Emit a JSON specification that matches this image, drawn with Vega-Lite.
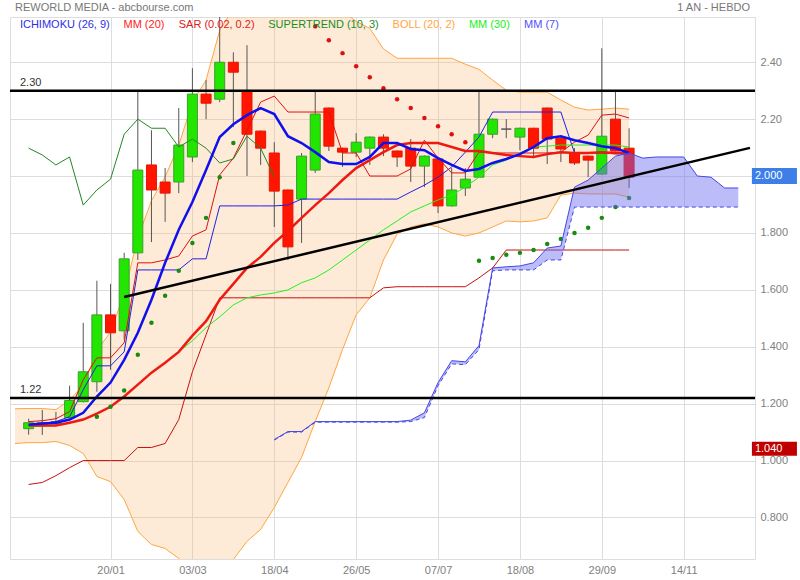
{
"$schema": "https://vega.github.io/schema/vega-lite/v6.json",
"width": 745,
"height": 542,
"autosize": {"type": "none"},
"padding": {"left": 10, "top": 17, "right": 45, "bottom": 21},
"background": "white",
"config": {
  "view": {"stroke": "#dddddd", "strokeWidth": 1},
  "axis": {"gridColor": "#dddddd", "gridWidth": 1, "labelFont": "Liberation Sans", "labelFontSize": 11, "labelColor": "#808080", "ticks": false, "domain": false},
  "text": {"font": "Liberation Sans"}
},
"datasets": {
  "candles": [
    {"k":0,"o":1.112,"h":1.147,"l":1.091,"c":1.133},
    {"k":1,"o":1.126,"h":1.178,"l":1.090,"c":1.133},
    {"k":2,"o":1.130,"h":1.171,"l":1.126,"c":1.137},
    {"k":3,"o":1.151,"h":1.263,"l":1.151,"c":1.211},
    {"k":4,"o":1.207,"h":1.484,"l":1.204,"c":1.312},
    {"k":5,"o":1.277,"h":1.632,"l":1.242,"c":1.512},
    {"k":6,"o":1.512,"h":1.621,"l":1.319,"c":1.449},
    {"k":7,"o":1.456,"h":1.730,"l":1.425,"c":1.709},
    {"k":8,"o":1.730,"h":2.302,"l":1.705,"c":2.021},
    {"k":9,"o":2.039,"h":2.161,"l":1.768,"c":1.951},
    {"k":10,"o":1.979,"h":2.028,"l":1.839,"c":1.940},
    {"k":11,"o":1.979,"h":2.239,"l":1.940,"c":2.109},
    {"k":12,"o":2.067,"h":2.379,"l":2.049,"c":2.288},
    {"k":13,"o":2.288,"h":2.337,"l":2.200,"c":2.256},
    {"k":14,"o":2.270,"h":2.600,"l":2.260,"c":2.400},
    {"k":15,"o":2.400,"h":2.435,"l":2.172,"c":2.365},
    {"k":16,"o":2.298,"h":2.460,"l":2.000,"c":2.147},
    {"k":17,"o":2.158,"h":2.160,"l":2.039,"c":2.098},
    {"k":18,"o":2.081,"h":2.119,"l":1.821,"c":1.947},
    {"k":19,"o":1.951,"h":1.953,"l":1.705,"c":1.751},
    {"k":20,"o":1.919,"h":2.081,"l":1.765,"c":2.070},
    {"k":21,"o":2.021,"h":2.302,"l":2.011,"c":2.218},
    {"k":22,"o":2.239,"h":2.241,"l":2.088,"c":2.105},
    {"k":23,"o":2.098,"h":2.100,"l":2.032,"c":2.084},
    {"k":24,"o":2.084,"h":2.151,"l":2.067,"c":2.119},
    {"k":25,"o":2.098,"h":2.139,"l":2.039,"c":2.137},
    {"k":26,"o":2.137,"h":2.147,"l":2.070,"c":2.098},
    {"k":27,"o":2.088,"h":2.090,"l":2.032,"c":2.067},
    {"k":28,"o":2.098,"h":2.130,"l":1.979,"c":2.035},
    {"k":29,"o":2.035,"h":2.072,"l":1.961,"c":2.070},
    {"k":30,"o":2.060,"h":2.062,"l":1.870,"c":1.895},
    {"k":31,"o":1.895,"h":2.028,"l":1.893,"c":1.951},
    {"k":32,"o":1.958,"h":2.028,"l":1.930,"c":1.989},
    {"k":33,"o":1.996,"h":2.302,"l":1.994,"c":2.147},
    {"k":34,"o":2.147,"h":2.202,"l":2.133,"c":2.200},
    {"k":35,"o":2.165,"h":2.200,"l":2.133,"c":2.165},
    {"k":36,"o":2.137,"h":2.170,"l":2.091,"c":2.168},
    {"k":37,"o":2.168,"h":2.170,"l":2.063,"c":2.098},
    {"k":38,"o":2.239,"h":2.241,"l":2.042,"c":2.130},
    {"k":39,"o":2.133,"h":2.135,"l":2.049,"c":2.095},
    {"k":40,"o":2.081,"h":2.098,"l":2.039,"c":2.046},
    {"k":41,"o":2.070,"h":2.072,"l":1.996,"c":2.056},
    {"k":42,"o":2.007,"h":2.449,"l":2.005,"c":2.140},
    {"k":43,"o":2.200,"h":2.302,"l":2.086,"c":2.088},
    {"k":44,"o":2.098,"h":2.168,"l":1.958,"c":1.996}
  ],
  "ma": [
    {"k":0,"m7":1.126,"m20":1.123,"m30":1.119,"tk":1.137,"kj":1.126,"sr":0.916},
    {"k":1,"m7":1.130,"m20":1.123,"m30":1.120,"tk":1.140,"kj":1.130,"sr":0.923},
    {"k":2,"m7":1.133,"m20":1.123,"m30":1.123,"tk":1.147,"kj":1.137,"sr":0.947},
    {"k":3,"m7":1.144,"m20":1.133,"m30":1.133,"tk":1.172,"kj":1.154,"sr":0.975},
    {"k":4,"m7":1.168,"m20":1.144,"m30":1.144,"tk":1.284,"kj":1.249,"sr":1.000},
    {"k":5,"m7":1.225,"m20":1.165,"m30":1.165,"tk":1.361,"kj":1.333,"sr":1.000},
    {"k":6,"m7":1.274,"m20":1.189,"m30":1.189,"tk":1.361,"kj":1.333,"sr":1.000},
    {"k":7,"m7":1.354,"m20":1.225,"m30":1.225,"tk":1.414,"kj":1.382,"sr":1.000},
    {"k":8,"m7":1.449,"m20":1.267,"m30":1.267,"tk":1.695,"kj":1.670,"sr":1.046},
    {"k":9,"m7":1.565,"m20":1.309,"m30":1.309,"tk":1.695,"kj":1.670,"sr":1.046},
    {"k":10,"m7":1.695,"m20":1.344,"m30":1.344,"tk":1.705,"kj":1.670,"sr":1.060},
    {"k":11,"m7":1.811,"m20":1.382,"m30":1.382,"tk":1.719,"kj":1.670,"sr":1.144},
    {"k":12,"m7":1.909,"m20":1.439,"m30":1.421,"tk":1.789,"kj":1.709,"sr":1.312},
    {"k":13,"m7":2.021,"m20":1.490,"m30":1.467,"tk":1.811,"kj":1.709,"sr":1.442},
    {"k":14,"m7":2.137,"m20":1.565,"m30":1.505,"tk":2.004,"kj":1.895,"sr":1.572},
    {"k":15,"m7":2.182,"m20":1.621,"m30":1.547,"tk":2.063,"kj":1.895,"sr":1.572},
    {"k":16,"m7":2.214,"m20":1.677,"m30":1.572,"tk":2.161,"kj":1.895,"sr":1.572},
    {"k":17,"m7":2.239,"m20":1.716,"m30":1.582,"tk":2.260,"kj":1.895,"sr":1.572},
    {"k":18,"m7":2.218,"m20":1.765,"m30":1.589,"tk":2.281,"kj":1.895,"sr":1.572},
    {"k":19,"m7":2.140,"m20":1.807,"m30":1.600,"tk":2.225,"kj":1.898,"sr":1.572},
    {"k":20,"m7":2.116,"m20":1.853,"m30":1.625,"tk":2.225,"kj":1.919,"sr":1.572},
    {"k":21,"m7":2.084,"m20":1.898,"m30":1.642,"tk":2.225,"kj":1.919,"sr":1.572},
    {"k":22,"m7":2.049,"m20":1.940,"m30":1.670,"tk":2.225,"kj":1.919,"sr":1.572},
    {"k":23,"m7":2.042,"m20":1.986,"m30":1.705,"tk":2.081,"kj":1.919,"sr":1.572},
    {"k":24,"m7":2.042,"m20":2.028,"m30":1.740,"tk":2.081,"kj":1.919,"sr":1.572},
    {"k":25,"m7":2.067,"m20":2.056,"m30":1.775,"tk":2.000,"kj":1.919,"sr":1.572},
    {"k":26,"m7":2.116,"m20":2.084,"m30":1.811,"tk":2.000,"kj":1.919,"sr":1.607},
    {"k":27,"m7":2.116,"m20":2.109,"m30":1.842,"tk":2.000,"kj":1.919,"sr":1.611},
    {"k":28,"m7":2.095,"m20":2.116,"m30":1.874,"tk":2.025,"kj":1.944,"sr":1.611},
    {"k":29,"m7":2.091,"m20":2.116,"m30":1.895,"tk":2.126,"kj":1.968,"sr":1.611},
    {"k":30,"m7":2.063,"m20":2.116,"m30":1.916,"tk":2.063,"kj":1.996,"sr":1.611},
    {"k":31,"m7":2.039,"m20":2.102,"m30":1.933,"tk":2.011,"kj":2.032,"sr":1.611},
    {"k":32,"m7":2.018,"m20":2.088,"m30":1.961,"tk":2.011,"kj":2.084,"sr":1.611},
    {"k":33,"m7":2.025,"m20":2.088,"m30":1.996,"tk":2.084,"kj":2.137,"sr":1.642},
    {"k":34,"m7":2.046,"m20":2.081,"m30":2.039,"tk":2.081,"kj":2.225,"sr":1.677},
    {"k":35,"m7":2.060,"m20":2.074,"m30":2.056,"tk":2.081,"kj":2.225,"sr":1.740},
    {"k":36,"m7":2.077,"m20":2.070,"m30":2.081,"tk":2.081,"kj":2.225,"sr":1.740},
    {"k":37,"m7":2.102,"m20":2.067,"m30":2.102,"tk":2.081,"kj":2.225,"sr":1.740},
    {"k":38,"m7":2.133,"m20":2.077,"m30":2.105,"tk":2.081,"kj":2.225,"sr":1.740},
    {"k":39,"m7":2.140,"m20":2.084,"m30":2.109,"tk":2.084,"kj":2.225,"sr":1.740},
    {"k":40,"m7":2.126,"m20":2.081,"m30":2.109,"tk":2.119,"kj":2.081,"sr":1.740},
    {"k":41,"m7":2.116,"m20":2.081,"m30":2.109,"tk":2.144,"kj":2.081,"sr":1.740},
    {"k":42,"m7":2.105,"m20":2.084,"m30":2.109,"tk":2.214,"kj":2.081,"sr":1.740},
    {"k":43,"m7":2.098,"m20":2.081,"m30":2.109,"tk":2.218,"kj":2.078,"sr":1.740},
    {"k":44,"m7":2.081,"m20":2.081,"m30":2.102,"tk":2.204,"kj":2.077,"sr":1.740}
  ],
  "boll": [
    {"k":-1,"up":1.182,"lo":1.060},{"k":0,"up":1.183,"lo":1.063},{"k":1,"up":1.183,"lo":1.063},
    {"k":2,"up":1.179,"lo":1.067},{"k":3,"up":1.213,"lo":1.053},{"k":4,"up":1.263,"lo":1.025},
    {"k":5,"up":1.386,"lo":0.944},{"k":6,"up":1.452,"lo":0.926},{"k":7,"up":1.587,"lo":0.863},
    {"k":8,"up":1.783,"lo":0.751},{"k":9,"up":1.913,"lo":0.705},{"k":10,"up":1.997,"lo":0.691},
    {"k":11,"up":2.108,"lo":0.656},{"k":12,"up":2.260,"lo":0.618},{"k":13,"up":2.337,"lo":0.643},
    {"k":14,"up":2.512,"lo":0.618},{"k":15,"up":2.590,"lo":0.652},{"k":16,"up":2.638,"lo":0.716},
    {"k":17,"up":2.674,"lo":0.758},{"k":18,"up":2.695,"lo":0.835},{"k":19,"up":2.691,"lo":0.923},
    {"k":20,"up":2.695,"lo":1.011},{"k":21,"up":2.659,"lo":1.137},{"k":22,"up":2.624,"lo":1.256},
    {"k":23,"up":2.580,"lo":1.390},{"k":24,"up":2.544,"lo":1.512},{"k":25,"up":2.519,"lo":1.572},
    {"k":26,"up":2.447,"lo":1.705},{"k":27,"up":2.414,"lo":1.796},{"k":28,"up":2.414,"lo":1.821},
    {"k":29,"up":2.414,"lo":1.832},{"k":30,"up":2.414,"lo":1.821},{"k":31,"up":2.414,"lo":1.800},
    {"k":32,"up":2.393,"lo":1.789},{"k":33,"up":2.375,"lo":1.800},{"k":34,"up":2.337,"lo":1.821},
    {"k":35,"up":2.302,"lo":1.842},{"k":36,"up":2.295,"lo":1.839},{"k":37,"up":2.295,"lo":1.842},
    {"k":38,"up":2.295,"lo":1.853},{"k":39,"up":2.267,"lo":1.933},{"k":40,"up":2.242,"lo":1.940},
    {"k":41,"up":2.232,"lo":1.937},{"k":42,"up":2.235,"lo":1.937},{"k":43,"up":2.239,"lo":1.937},
    {"k":44,"up":2.235,"lo":1.926}
  ],
  "chikou": [
    {"k":0,"v":2.098},{"k":1,"v":2.074},{"k":2,"v":2.039},{"k":3,"v":2.067},{"k":4,"v":1.898},
    {"k":5,"v":1.951},{"k":6,"v":1.989},{"k":7,"v":2.147},{"k":8,"v":2.200},{"k":9,"v":2.168},
    {"k":10,"v":2.168},{"k":11,"v":2.102},{"k":12,"v":2.130},{"k":13,"v":2.098},{"k":14,"v":2.046},
    {"k":15,"v":2.060},{"k":16,"v":2.140},{"k":17,"v":2.098},{"k":18,"v":1.996}
  ],
  "cloud": [
    {"k":18,"a":1.074,"b":1.072},{"k":19,"a":1.102,"b":1.100},{"k":20,"a":1.102,"b":1.100},
    {"k":21,"a":1.137,"b":1.135},{"k":22,"a":1.137,"b":1.135},{"k":23,"a":1.137,"b":1.135},
    {"k":24,"a":1.137,"b":1.135},{"k":25,"a":1.137,"b":1.135},{"k":26,"a":1.137,"b":1.135},
    {"k":27,"a":1.137,"b":1.135},{"k":28,"a":1.142,"b":1.137},{"k":29,"a":1.168,"b":1.151},
    {"k":30,"a":1.274,"b":1.263},{"k":31,"a":1.351,"b":1.340},{"k":32,"a":1.347,"b":1.337},
    {"k":33,"a":1.404,"b":1.390},{"k":34,"a":1.677,"b":1.667},{"k":35,"a":1.681,"b":1.670},
    {"k":36,"a":1.684,"b":1.670},{"k":37,"a":1.695,"b":1.670},{"k":38,"a":1.747,"b":1.705},
    {"k":39,"a":1.754,"b":1.705},{"k":40,"a":1.961,"b":1.891},{"k":41,"a":1.986,"b":1.891},
    {"k":42,"a":2.028,"b":1.891},{"k":43,"a":2.070,"b":1.891},{"k":44,"a":2.081,"b":1.891},
    {"k":45,"a":2.063,"b":1.891},{"k":46,"a":2.067,"b":1.891},{"k":47,"a":2.067,"b":1.891},
    {"k":48,"a":2.067,"b":1.891},{"k":49,"a":2.000,"b":1.891},{"k":50,"a":1.996,"b":1.891},
    {"k":51,"a":1.958,"b":1.891},{"k":52,"a":1.958,"b":1.891}
  ],
  "sar": [
    {"k":5,"v":1.154,"side":"up"},{"k":6,"v":1.189,"side":"up"},{"k":7,"v":1.246,"side":"up"},
    {"k":8,"v":1.372,"side":"up"},{"k":9,"v":1.484,"side":"up"},{"k":10,"v":1.579,"side":"up"},
    {"k":11,"v":1.667,"side":"up"},{"k":12,"v":1.765,"side":"up"},{"k":13,"v":1.853,"side":"up"},
    {"k":14,"v":1.996,"side":"up"},{"k":15,"v":2.116,"side":"up"},
    {"k":21,"v":2.526,"side":"down"},{"k":22,"v":2.477,"side":"down"},{"k":23,"v":2.432,"side":"down"},
    {"k":24,"v":2.386,"side":"down"},{"k":25,"v":2.347,"side":"down"},{"k":26,"v":2.309,"side":"down"},
    {"k":27,"v":2.270,"side":"down"},{"k":28,"v":2.239,"side":"down"},{"k":29,"v":2.204,"side":"down"},
    {"k":30,"v":2.175,"side":"down"},{"k":31,"v":2.147,"side":"down"},{"k":32,"v":2.119,"side":"down"},
    {"k":33,"v":1.702,"side":"up"},{"k":34,"v":1.712,"side":"up"},{"k":35,"v":1.723,"side":"up"},
    {"k":36,"v":1.730,"side":"up"},{"k":37,"v":1.740,"side":"up"},{"k":38,"v":1.761,"side":"up"},
    {"k":39,"v":1.779,"side":"up"},{"k":40,"v":1.800,"side":"up"},{"k":41,"v":1.818,"side":"up"},
    {"k":42,"v":1.853,"side":"up"},{"k":43,"v":1.891,"side":"up"},{"k":44,"v":1.923,"side":"up"}
  ],
  "trend": [{"k":7,"v":1.575},{"k":52.86,"v":2.099}],
  "levels": [{"v":2.30,"w":"a"},{"v":1.22,"w":"b"}]
},
"layer": [
  {"data": {"name": "boll"},
   "mark": {"type": "area", "clip": true, "color": "#f8bc7a", "opacity": 0.3},
   "encoding": {
     "x": {"field": "k", "type": "quantitative", "scale": {"domain": [-1, 52.86], "nice": false, "zero": false},
           "axis": {"title": null, "values": [6,12,18,24,30,36,42,48], "labelExpr": "['20/01','03/03','18/04','26/05','07/07','18/08','29/09','14/11'][round(datum.value/6)-1]", "labelPadding": 5, "grid": true}},
     "y": {"field": "up", "type": "quantitative", "scale": {"domain": [0.654, 2.559], "nice": false, "zero": false},
           "axis": {"title": null, "orient": "right", "values": [0.8,1,1.2,1.4,1.6,1.8,2,2.2,2.4], "labelExpr": "abs(datum.value - 2) < 0.01 ? '' : (datum.value > 2.1 ? format(datum.value, '.2f') : format(datum.value, '.3f'))", "labelPadding": 5, "grid": true}},
     "y2": {"field": "lo"}
   }},
  {"data": {"name": "boll"}, "mark": {"type": "line", "clip": true, "color": "#ffa640", "strokeWidth": 1},
   "encoding": {"x": {"field": "k", "type": "quantitative"}, "y": {"field": "up", "type": "quantitative"}}},
  {"data": {"name": "boll"}, "mark": {"type": "line", "clip": true, "color": "#ffa640", "strokeWidth": 1},
   "encoding": {"x": {"field": "k", "type": "quantitative"}, "y": {"field": "lo", "type": "quantitative"}}},
  {"data": {"name": "candles"}, "mark": {"type": "rule", "clip": true, "color": "#555555", "strokeWidth": 1},
   "encoding": {"x": {"field": "k", "type": "quantitative"}, "y": {"field": "l", "type": "quantitative"}, "y2": {"field": "h"}}},
  {"data": {"name": "candles"}, "mark": {"type": "bar", "clip": true, "size": 10, "orient": "vertical", "strokeWidth": 1},
   "encoding": {"x": {"field": "k", "type": "quantitative"}, "y": {"field": "o", "type": "quantitative"}, "y2": {"field": "c"},
     "fill": {"condition": [{"test": "datum.c == datum.o", "value": "#555555"}, {"test": "datum.c > datum.o", "value": "#22e600"}], "value": "#ff1500"},
     "stroke": {"condition": [{"test": "datum.c == datum.o", "value": "#555555"}, {"test": "datum.c > datum.o", "value": "#3c9e2c"}], "value": "#e81500"}}},
  {"data": {"name": "ma"}, "mark": {"type": "line", "clip": true, "color": "#c81010", "strokeWidth": 1},
   "encoding": {"x": {"field": "k", "type": "quantitative"}, "y": {"field": "sr", "type": "quantitative"}}},
  {"data": {"name": "ma"}, "mark": {"type": "line", "clip": true, "color": "#2020e0", "strokeWidth": 1},
   "encoding": {"x": {"field": "k", "type": "quantitative"}, "y": {"field": "kj", "type": "quantitative"}}},
  {"data": {"name": "ma"}, "mark": {"type": "line", "clip": true, "color": "#e01010", "strokeWidth": 1},
   "encoding": {"x": {"field": "k", "type": "quantitative"}, "y": {"field": "tk", "type": "quantitative"}}},
  {"data": {"name": "ma"}, "mark": {"type": "line", "clip": true, "color": "#22f022", "strokeWidth": 1},
   "encoding": {"x": {"field": "k", "type": "quantitative"}, "y": {"field": "m30", "type": "quantitative"}}},
  {"data": {"name": "chikou"}, "mark": {"type": "line", "clip": true, "color": "#228822", "strokeWidth": 1},
   "encoding": {"x": {"field": "k", "type": "quantitative"}, "y": {"field": "v", "type": "quantitative"}}},
  {"data": {"name": "ma"}, "mark": {"type": "line", "clip": true, "color": "#ee1a10", "strokeWidth": 2.5},
   "encoding": {"x": {"field": "k", "type": "quantitative"}, "y": {"field": "m20", "type": "quantitative"}}},
  {"data": {"name": "ma"}, "mark": {"type": "line", "clip": true, "color": "#1010ee", "strokeWidth": 2.5},
   "encoding": {"x": {"field": "k", "type": "quantitative"}, "y": {"field": "m7", "type": "quantitative"}}},
  {"data": {"name": "sar"}, "mark": {"type": "circle", "clip": true, "size": 20, "opacity": 1},
   "encoding": {"x": {"field": "k", "type": "quantitative"}, "y": {"field": "v", "type": "quantitative"},
     "color": {"field": "side", "type": "nominal", "scale": {"domain": ["up", "down"], "range": ["#1a8a10", "#dd1111"]}, "legend": null}}},
  {"data": {"name": "cloud"}, "mark": {"type": "area", "clip": true, "color": "#6a6af0", "opacity": 0.45},
   "encoding": {"x": {"field": "k", "type": "quantitative"}, "y": {"field": "a", "type": "quantitative"}, "y2": {"field": "b"}}},
  {"data": {"name": "cloud"}, "mark": {"type": "line", "clip": true, "color": "#4646e6", "strokeWidth": 1},
   "encoding": {"x": {"field": "k", "type": "quantitative"}, "y": {"field": "a", "type": "quantitative"}}},
  {"data": {"name": "cloud"}, "mark": {"type": "line", "clip": true, "color": "#4646e6", "strokeWidth": 1, "strokeDash": [4, 3]},
   "encoding": {"x": {"field": "k", "type": "quantitative"}, "y": {"field": "b", "type": "quantitative"}}},
  {"data": {"name": "levels"}, "mark": {"type": "rule", "color": "#000000", "strokeWidth": 2.5},
   "encoding": {"y": {"field": "v", "type": "quantitative"}}},
  {"data": {"name": "trend"}, "mark": {"type": "line", "clip": true, "color": "#000000", "strokeWidth": 2.5},
   "encoding": {"x": {"field": "k", "type": "quantitative"}, "y": {"field": "v", "type": "quantitative"}}},
  {"data": {"name": "levels"}, "mark": {"type": "text", "align": "left", "baseline": "bottom", "dx": 5, "dy": -3, "fontSize": 11, "color": "#333333"},
   "encoding": {"x": {"datum": -1, "type": "quantitative"}, "y": {"field": "v", "type": "quantitative"}, "text": {"field": "v", "type": "quantitative", "format": ".2f"}}},
  {"data": {"values": [{"t": "ICHIMOKU (26, 9)"}]}, "mark": {"type": "text", "align": "left", "baseline": "middle", "fontSize": 11, "color": "#2e2ee6"},
   "encoding": {"x": {"datum": -0.64, "type": "quantitative"}, "y": {"datum": 2.531, "type": "quantitative"}, "text": {"field": "t"}}},
  {"data": {"values": [{"t": "MM (20)"}]}, "mark": {"type": "text", "align": "left", "baseline": "middle", "fontSize": 11, "color": "#ff2222"},
   "encoding": {"x": {"datum": 6.95, "type": "quantitative"}, "y": {"datum": 2.531, "type": "quantitative"}, "text": {"field": "t"}}},
  {"data": {"values": [{"t": "SAR (0.02, 0.2)"}]}, "mark": {"type": "text", "align": "left", "baseline": "middle", "fontSize": 11, "color": "#e02020"},
   "encoding": {"x": {"datum": 11.0, "type": "quantitative"}, "y": {"datum": 2.531, "type": "quantitative"}, "text": {"field": "t"}}},
  {"data": {"values": [{"t": "SUPERTREND (10, 3)"}]}, "mark": {"type": "text", "align": "left", "baseline": "middle", "fontSize": 11, "color": "#1e8c1e"},
   "encoding": {"x": {"datum": 17.56, "type": "quantitative"}, "y": {"datum": 2.531, "type": "quantitative"}, "text": {"field": "t"}}},
  {"data": {"values": [{"t": "BOLL (20, 2)"}]}, "mark": {"type": "text", "align": "left", "baseline": "middle", "fontSize": 11, "color": "#ffa640"},
   "encoding": {"x": {"datum": 26.67, "type": "quantitative"}, "y": {"datum": 2.531, "type": "quantitative"}, "text": {"field": "t"}}},
  {"data": {"values": [{"t": "MM (30)"}]}, "mark": {"type": "text", "align": "left", "baseline": "middle", "fontSize": 11, "color": "#22ee22"},
   "encoding": {"x": {"datum": 32.26, "type": "quantitative"}, "y": {"datum": 2.531, "type": "quantitative"}, "text": {"field": "t"}}},
  {"data": {"values": [{"t": "MM (7)"}]}, "mark": {"type": "text", "align": "left", "baseline": "middle", "fontSize": 11, "color": "#5050ff"},
   "encoding": {"x": {"datum": 36.3, "type": "quantitative"}, "y": {"datum": 2.531, "type": "quantitative"}, "text": {"field": "t"}}},
  {"data": {"values": [{"t": "REWORLD MEDIA - abcbourse.com"}]}, "mark": {"type": "text", "align": "left", "baseline": "middle", "dy": -9, "fontSize": 11, "color": "#777777"},
   "encoding": {"x": {"datum": -1, "type": "quantitative"}, "y": {"datum": 2.559, "type": "quantitative"}, "text": {"field": "t"}}},
  {"data": {"values": [{"t": "1 AN - HEBDO"}]}, "mark": {"type": "text", "align": "right", "baseline": "middle", "dy": -9, "fontSize": 11, "color": "#777777"},
   "encoding": {"x": {"datum": 52.86, "type": "quantitative"}, "y": {"datum": 2.559, "type": "quantitative"}, "text": {"field": "t"}}},
  {"data": {"values": [{"t": "2.000"}]}, "mark": {"type": "rect", "color": "#3d7ee8"},
   "encoding": {"x": {"datum": 53.0, "type": "quantitative"}, "x2": {"datum": 56.3}, "y": {"datum": 2.028, "type": "quantitative"}, "y2": {"datum": 1.972}}},
  {"data": {"values": [{"t": "2.000"}]}, "mark": {"type": "text", "align": "left", "baseline": "middle", "dx": 3, "fontSize": 11, "color": "#ffffff"},
   "encoding": {"x": {"datum": 53.0, "type": "quantitative"}, "y": {"datum": 2.0, "type": "quantitative"}, "text": {"field": "t"}}},
  {"data": {"values": [{"t": "1.040"}]}, "mark": {"type": "rect", "color": "#c00000"},
   "encoding": {"x": {"datum": 53.0, "type": "quantitative"}, "x2": {"datum": 56.3}, "y": {"datum": 1.066, "type": "quantitative"}, "y2": {"datum": 1.017}}},
  {"data": {"values": [{"t": "1.040"}]}, "mark": {"type": "text", "align": "left", "baseline": "middle", "dx": 3, "fontSize": 11, "color": "#ffffff"},
   "encoding": {"x": {"datum": 53.0, "type": "quantitative"}, "y": {"datum": 1.04, "type": "quantitative"}, "text": {"field": "t"}}}
]
}
